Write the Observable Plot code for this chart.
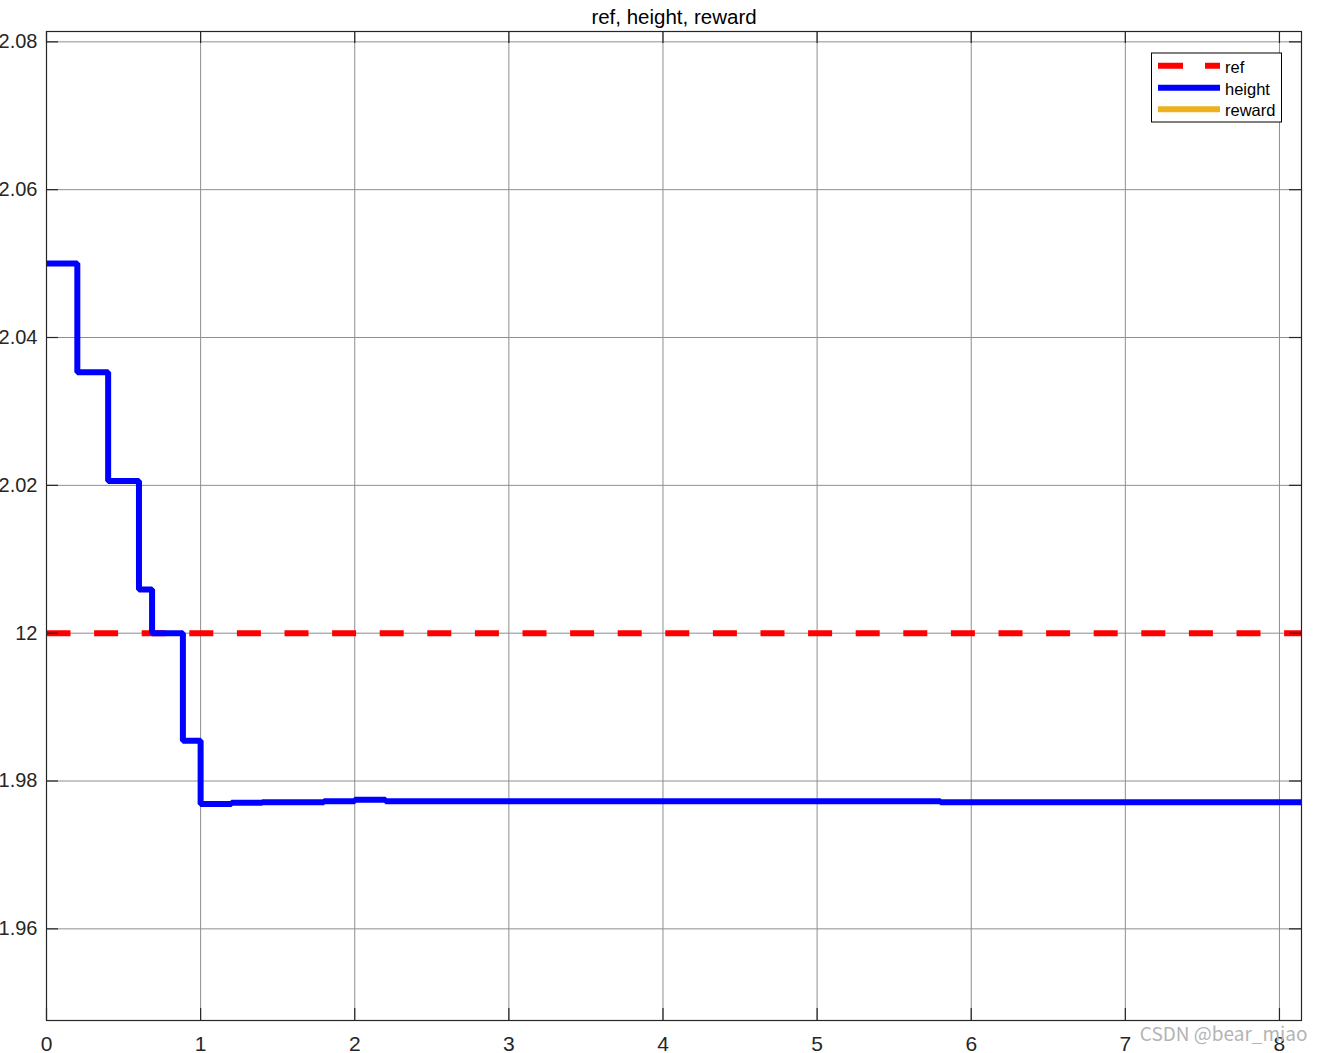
<!DOCTYPE html>
<html>
<head>
<meta charset="utf-8">
<script src="https://cdn.jsdelivr.net/npm/d3@7"></script>
<script src="https://cdn.jsdelivr.net/npm/@observablehq/plot@0.6"></script>
<style>
  html, body { margin: 0; padding: 0; background: white; }
  #wrap { position: relative; width: 1322px; height: 1053px; overflow: hidden; }
  #legend { position: absolute; left: 0; top: 0; pointer-events: none; }
</style>
</head>
<body>
<div id="wrap"></div>
<script>
// ---- data ----
const titleText = "ref, height, reward";
const seriesNames = ["ref", "height", "reward"];
const seriesColors = ["#FF0000", "#0000FF", "#EDB120"];
const xTicks = [0, 1, 2, 3, 4, 5, 6, 7, 8];
const yTicks = [11.96, 11.98, 12.00, 12.02, 12.04, 12.06, 12.08];
const refTime = [0, 8.15];
const refValue = [12, 12];
const heightTime = [0, 0.2, 0.4, 0.6, 0.685, 0.885, 1.0, 1.2, 1.4, 1.8, 2.0, 2.2, 5.8, 8.15];
const heightValue = [12.0500, 12.0353, 12.0206, 12.0059, 12.0000, 11.98545, 11.97689, 11.97705, 11.97714, 11.97726, 11.97746, 11.97727, 11.97712, 11.97712];
const watermark = "CSDN @bear_miao";

const refData = refTime.map((t, i) => ({t, v: refValue[i]}));
const heightData = heightTime.map((t, i) => ({t, v: heightValue[i]}));

const W = 1322, H = 1053;
const mL = 46, mR = 21, mT = 31, mB = 33;
const pw = W - mL - mR, ph = H - mT - mB;
const gridColor = "#8e8e8e";
const axisColor = "#262626";

const chart = Plot.plot({
  width: W,
  height: H,
  marginLeft: mL, marginRight: mR, marginTop: mT, marginBottom: mB,
  x: {domain: [0, 8.143], label: null},
  y: {domain: [11.9476, 12.0814], label: null},
  style: {fontFamily: "'Liberation Sans', Arial, Helvetica, sans-serif", fontSize: "20px", color: axisColor, background: "white"},
  marks: [
    Plot.gridX(xTicks, {stroke: gridColor, strokeOpacity: 1, strokeWidth: 1}),
    Plot.gridY(yTicks, {stroke: gridColor, strokeOpacity: 1, strokeWidth: 1}),
    Plot.line(refData, {x: "t", y: "v", stroke: seriesColors[0], strokeWidth: 6, strokeDasharray: "24,23.6", strokeLinecap: "butt", clip: "frame"}),
    Plot.line(heightData, {x: "t", y: "v", curve: "step-after", stroke: seriesColors[1], strokeWidth: 6, strokeLinejoin: "miter", strokeLinecap: "butt", clip: "frame"}),
    Plot.frame({stroke: axisColor, strokeWidth: 1.2}),
    Plot.tickX(xTicks, {x: d => d, insetTop: ph - 12, stroke: axisColor, strokeWidth: 1.2}),
    Plot.tickX(xTicks, {x: d => d, insetBottom: ph - 12, stroke: axisColor, strokeWidth: 1.2}),
    Plot.tickY(yTicks, {y: d => d, insetRight: pw - 12, stroke: axisColor, strokeWidth: 1.2}),
    Plot.tickY(yTicks, {y: d => d, insetLeft: pw - 12, stroke: axisColor, strokeWidth: 1.2}),
    Plot.axisX(xTicks, {tickSize: 0, tickPadding: 16, fontSize: 21, label: null, tickFormat: d => String(d)}),
    Plot.axisY(yTicks, {tickSize: 0, tickPadding: 9, fontSize: 20, label: null, tickFormat: d => String(Math.round(d * 100) / 100)}),
    Plot.text([titleText], {frameAnchor: "top", lineAnchor: "middle", dy: -14.5, fontSize: 20.5, fill: "#000"}),
    Plot.text([watermark], {frameAnchor: "bottom-right", textAnchor: "end", lineAnchor: "bottom", dx: 6, dy: 20, fontSize: 19, fill: "#b4b4b4", fontFamily: "'Noto Sans CJK SC', 'Noto Sans', sans-serif"})
  ]
});

const wrap = document.getElementById("wrap");
wrap.appendChild(chart);

// ---- legend overlay ----
const ns = "http://www.w3.org/2000/svg";
const leg = document.createElementNS(ns, "svg");
leg.setAttribute("id", "legend");
leg.setAttribute("width", W);
leg.setAttribute("height", H);
const box = document.createElementNS(ns, "rect");
box.setAttribute("x", 1151.5); box.setAttribute("y", 53);
box.setAttribute("width", 130); box.setAttribute("height", 69);
box.setAttribute("fill", "white"); box.setAttribute("stroke", "#000"); box.setAttribute("stroke-width", 1);
leg.appendChild(box);
const rowsY = [65.7, 87.7, 109.3];
const baseY = [72.8, 94.5, 116.3];
seriesNames.forEach((name, i) => {
  const ln = document.createElementNS(ns, "line");
  ln.setAttribute("x1", 1158); ln.setAttribute("x2", 1220);
  ln.setAttribute("y1", rowsY[i]); ln.setAttribute("y2", rowsY[i]);
  ln.setAttribute("stroke", seriesColors[i]); ln.setAttribute("stroke-width", 6);
  if (i === 0) ln.setAttribute("stroke-dasharray", "25,22");
  leg.appendChild(ln);
  const tx = document.createElementNS(ns, "text");
  tx.setAttribute("x", 1225); tx.setAttribute("y", baseY[i]);
  tx.setAttribute("font-family", "'Liberation Sans', Arial, Helvetica, sans-serif");
  tx.setAttribute("font-size", "16.5");
  tx.setAttribute("fill", "#000");
  tx.textContent = name;
  leg.appendChild(tx);
});
wrap.appendChild(leg);
</script>
</body>
</html>
